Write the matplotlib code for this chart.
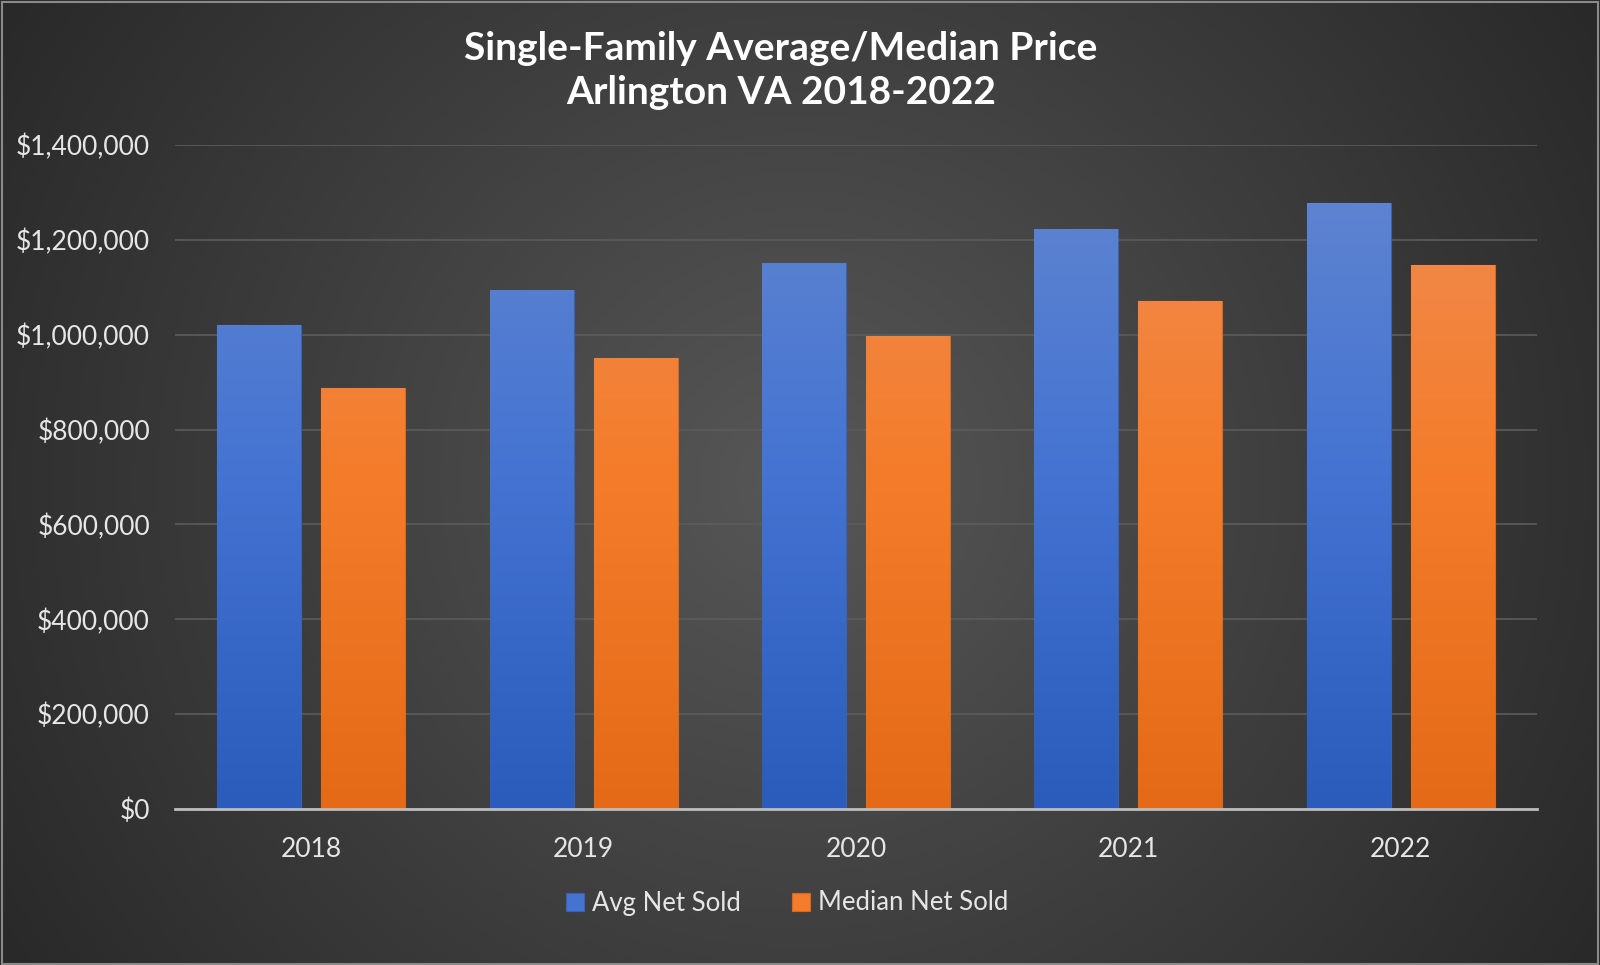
import numpy as np
import matplotlib.pyplot as plt
from matplotlib.colors import LinearSegmentedColormap
from matplotlib.patches import Rectangle

years = ['2018', '2019', '2020', '2021', '2022']
avg_net_sold = [1020000, 1095000, 1152000, 1222000, 1278000]
median_net_sold = [887500, 950000, 998000, 1072000, 1147000]

plt.rcParams['font.family'] = ['Lato', 'DejaVu Sans']

fig = plt.figure(figsize=(16, 9.65), dpi=100)

# radial background
bg = fig.add_axes([0, 0, 1, 1], zorder=-10)
xx, yy = np.meshgrid(np.linspace(-1, 1, 400), np.linspace(-1, 1, 240))
r = np.sqrt(xx**2 + (yy * 0.62)**2)
bg_cmap = LinearSegmentedColormap.from_list('bg', ['#575757', '#3e3e3e', '#262626'])
bg.imshow(r, cmap=bg_cmap, aspect='auto', extent=[0, 1, 0, 1], vmin=0, vmax=1.25)
bg.set_axis_off()
fig.patches.append(Rectangle((0.001, 0.001), 0.998, 0.997, transform=fig.transFigure,
                             fill=False, edgecolor='#8a8a8a', linewidth=1.5))

ax = fig.add_axes([175/1600, 1 - 809/965, (1537-175)/1600, (809-145)/965])
ax.set_facecolor('none')

x = np.arange(len(years))
w = 0.308
off = 0.191
blue_cmap = LinearSegmentedColormap.from_list('b', ['#2b5cbb', '#4473d2', '#6387d0'])
orange_cmap = LinearSegmentedColormap.from_list('o', ['#e46a17', '#f47c2a', '#f08d55'])

ax.set_xlim(-0.5, 4.5)
ax.set_ylim(0, 1400000)

def grad_bars(xpos, vals, cmap, label, edge):
    bars = ax.bar(xpos, vals, w, color=cmap(0.5), edgecolor=edge, linewidth=0.8,
                  label=label, zorder=2)
    for b in bars:
        grad = np.linspace(0, 1, 256).reshape(-1, 1)
        x0 = b.get_x()
        im = ax.imshow(grad, cmap=cmap, origin='lower', aspect='auto',
                       extent=[x0, x0 + b.get_width(), 0, 1400000], zorder=3)
        im.set_clip_path(b)
    return bars

grad_bars(x - off, avg_net_sold, blue_cmap, 'Avg Net Sold', '#3a62b0')
grad_bars(x + off, median_net_sold, orange_cmap, 'Median Net Sold', '#d9691f')
ax.set_xlim(-0.5, 4.5)
ax.set_ylim(0, 1400000)

ax.set_yticks(np.arange(0, 1400001, 200000))
ax.set_yticklabels(['${:,.0f}'.format(v) for v in np.arange(0, 1400001, 200000)])
ax.set_xticks(x)
ax.set_xticklabels(years)
ax.yaxis.grid(True, color='#5c5c5c', linewidth=1.2, zorder=0)
ax.set_axisbelow(True)
for s in ['top', 'right', 'left']:
    ax.spines[s].set_visible(False)
ax.spines['bottom'].set_color('#bdbdbd')
ax.spines['bottom'].set_linewidth(2)
ax.spines['bottom'].set_zorder(5)
ax.tick_params(axis='both', length=0, colors='#e6e6e6', labelsize=19)
ax.tick_params(axis='y', pad=18)
ax.tick_params(axis='x', pad=20)

fig.text(0.488, 0.968, 'Single-Family Average/Median Price\nArlington VA 2018-2022',
         ha='center', va='top', color='white', fontsize=28, fontweight='bold',
         linespacing=1.3)

leg = fig.legend(loc='center', bbox_to_anchor=(0.492, 1 - 903/965), ncol=2, frameon=False,
                 fontsize=18.5, handlelength=0.7, handleheight=0.7, handletextpad=0.3,
                 columnspacing=2.0, labelcolor='#e6e6e6')

fig.savefig('out.png', dpi=100)
